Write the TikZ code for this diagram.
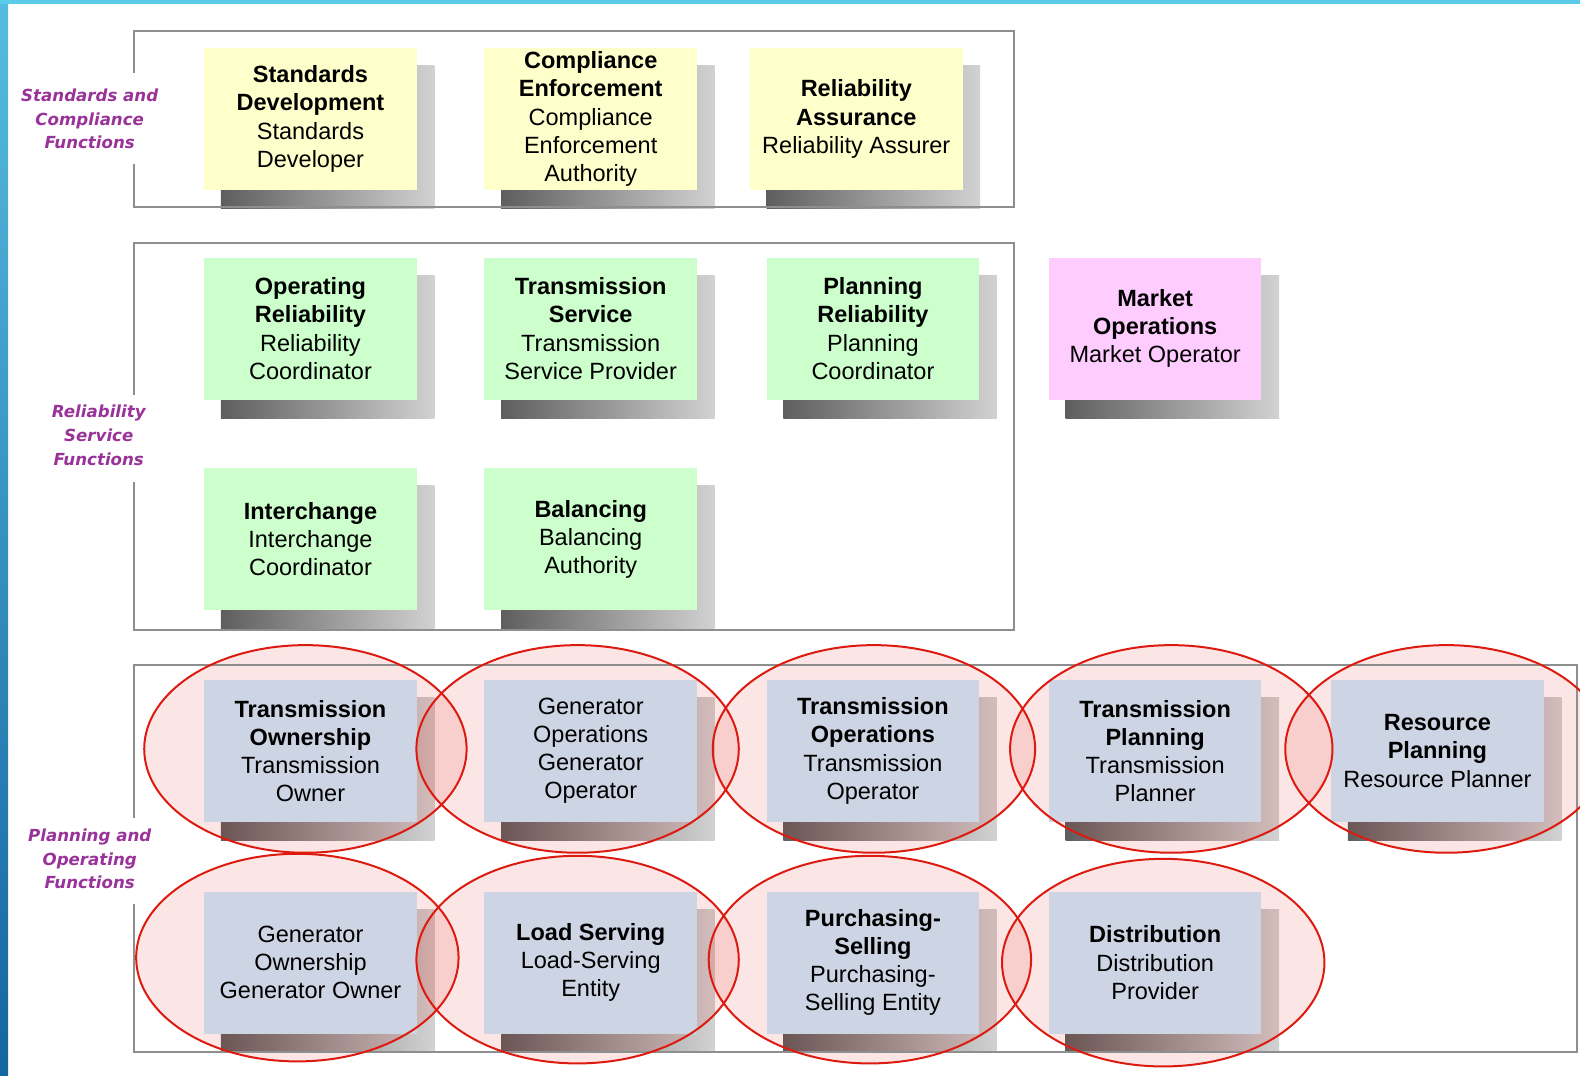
\documentclass[tikz,border=0pt]{standalone}
\usepackage{fontspec}
\setmainfont{Liberation Sans}
\newfontfamily\labelfont{DejaVu Sans}
\usetikzlibrary{shapes.geometric}
\pgfdeclarelayer{shadowlayer}
\pgfdeclarelayer{tintlayer}
\pgfdeclarelayer{frontlayer}
\pgfsetlayers{shadowlayer,tintlayer,main,frontlayer}
\definecolor{yelbox}{HTML}{FFFFCC}
\definecolor{grnbox}{HTML}{CCFFCC}
\definecolor{pnkbox}{HTML}{FFCCFF}
\definecolor{blubox}{HTML}{CDD5E4}
\definecolor{framegray}{HTML}{8E8E8E}
\definecolor{lblpurple}{HTML}{993399}
\definecolor{ellred}{HTML}{DD1A10}
\definecolor{shdark}{HTML}{5E5E5E}
\definecolor{shlight}{HTML}{D2D2D2}
\definecolor{bartop}{HTML}{56BCDF}
\definecolor{barbot}{HTML}{1565A0}
\definecolor{topbar}{HTML}{5ACBE8}
\newcommand\FuncBox[5]{%
  \node[funcbox, fill=#4] (#1) at (#2,#3) {#5};
  \begin{pgfonlayer}{shadowlayer}
    \shade[left color=shdark, right color=shlight]
      ([shift={(17,18)}]#1.north west) rectangle ([shift={(17,18)}]#1.south east);
  \end{pgfonlayer}%
}
\begin{document}
\begin{tikzpicture}[x=0.504bp,y=-0.504bp,
  funcbox/.style={minimum width=106.3bp, minimum height=71.1bp, inner sep=0pt,
    align=center, font=\fontsize{11.8}{14.1}\selectfont, text=black},
  grouplabel/.style={align=center, text=lblpurple,
    font=\labelfont\bfseries\itshape\fontsize{8.35}{11.9}\selectfont},
  grpframe/.style={draw=framegray, line width=1bp},
  tint/.style={fill=ellred, fill opacity=0.11},
  ring/.style={draw=ellred, line width=1bp}]
\useasboundingbox (0,0) rectangle (1567.46,1067.46);
% side bars
\shade[top color=bartop, bottom color=barbot] (0,0) rectangle (8,1067.46);
\fill[topbar] (0,0) rectangle (1567.46,3.5);
% group frames
\draw[grpframe] (133,72) -- (133,31) -- (1006,31) -- (1006,205) -- (133,205) -- (133,163);
\draw[grpframe] (133,392) -- (133,241) -- (1006,241) -- (1006,625) -- (133,625) -- (133,478);
\draw[grpframe] (133,812) -- (133,660) -- (1564,660) -- (1564,1044) -- (133,1044) -- (133,897);
% group labels
\node[grouplabel] (lab1) at (89,118) {Standards and\\Compliance\\Functions};
\node[grouplabel] (lab2) at (98,432) {Reliability\\Service\\Functions};
\node[grouplabel] (lab3) at (89,852) {Planning and\\Operating\\Functions};
% row 1
\FuncBox{sd}{308}{118}{yelbox}{\textbf{Standards}\\\textbf{Development}\\Standards\\Developer}
\FuncBox{ce}{586}{118}{yelbox}{\textbf{Compliance}\\\textbf{Enforcement}\\Compliance\\Enforcement\\Authority}
\FuncBox{ra}{849.5}{118}{yelbox}{\textbf{Reliability}\\\textbf{Assurance}\\Reliability Assurer}
% row 2
\FuncBox{orl}{308}{326}{grnbox}{\textbf{Operating}\\\textbf{Reliability}\\Reliability\\Coordinator}
\FuncBox{ts}{586}{326}{grnbox}{\textbf{Transmission}\\\textbf{Service}\\Transmission\\Service Provider}
\FuncBox{prl}{866}{326}{grnbox}{\textbf{Planning}\\\textbf{Reliability}\\Planning\\Coordinator}
\FuncBox{mo}{1146}{326}{pnkbox}{\textbf{Market}\\\textbf{Operations}\\Market Operator}
% row 3
\FuncBox{ic}{308}{535}{grnbox}{\textbf{Interchange}\\Interchange\\Coordinator}
\FuncBox{ba}{586}{535}{grnbox}{\textbf{Balancing}\\Balancing\\Authority}
% row 4
\FuncBox{tow}{308}{745}{blubox}{\textbf{Transmission}\\\textbf{Ownership}\\Transmission\\Owner}
\FuncBox{gop}{586}{745}{blubox}{Generator\\Operations\\Generator\\Operator}
\FuncBox{top}{866}{745}{blubox}{\textbf{Transmission}\\\textbf{Operations}\\Transmission\\Operator}
\FuncBox{tpl}{1146}{745}{blubox}{\textbf{Transmission}\\\textbf{Planning}\\Transmission\\Planner}
\FuncBox{rp}{1426}{745}{blubox}{\textbf{Resource}\\\textbf{Planning}\\Resource Planner}
% row 5
\FuncBox{gow}{308}{955}{blubox}{Generator\\Ownership\\Generator Owner}
\FuncBox{ls}{586}{955}{blubox}{\textbf{Load Serving}\\Load-Serving\\Entity}
\FuncBox{ps}{866}{955}{blubox}{\textbf{Purchasing-}\\\textbf{Selling}\\Purchasing-\\Selling Entity}
\FuncBox{di}{1146}{955}{blubox}{\textbf{Distribution}\\Distribution\\Provider}
% ellipses
\foreach \ex/\ey in {303/743, 573/743, 867/743, 1162/743, 1435/743,
                     295/950, 573/952, 863/952, 1154/955} {
  \begin{pgfonlayer}{tintlayer}
    \fill[tint] (\ex,\ey) ellipse [x radius=80.6bp, y radius=51.9bp];
  \end{pgfonlayer}
  \begin{pgfonlayer}{frontlayer}
    \draw[ring] (\ex,\ey) ellipse [x radius=80.6bp, y radius=51.9bp];
  \end{pgfonlayer}
}
\end{tikzpicture}
\end{document}
